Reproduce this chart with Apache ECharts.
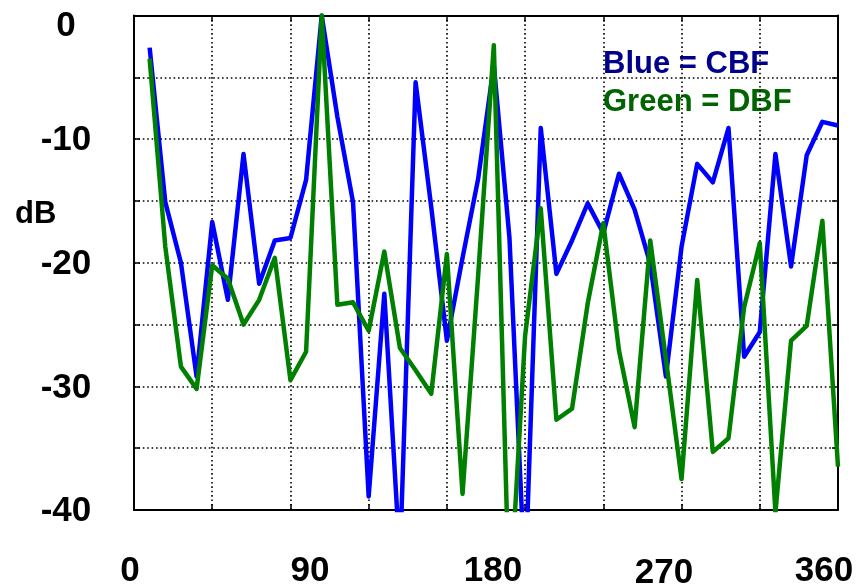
<!DOCTYPE html>
<html>
<head>
<meta charset="utf-8">
<script src="https://cdn.jsdelivr.net/npm/echarts@6/dist/echarts.min.js"></script>
<style>
html,body{margin:0;padding:0;background:#fff;}
#chart{width:861px;height:585px;}
</style>
</head>
<body>
<div id="chart"></div>
<script>
// Angles (degrees)
var angles = [8,16,24,32,40,48,56,64,72,80,88,96,104,112,120,128,136,144,152,160,168,176,184,192,200,208,216,224,232,240,248,256,264,272,280,288,296,304,312,320,328,336,344,352,360];
// Blue = CBF (dB)
var cbf = [-2.6,-15.1,-20.0,-29.2,-16.7,-23.0,-11.2,-21.7,-18.2,-18.0,-13.3,0,-8.2,-15.1,-38.9,-22.5,-44,-5.4,-15.5,-26.3,-19.6,-13.2,-4.0,-18.0,-46,-9.1,-20.9,-18.2,-15.2,-17.6,-12.8,-15.7,-20.1,-29.2,-18.7,-12.0,-13.5,-9.1,-27.6,-25.6,-11.2,-20.3,-11.3,-8.6,-8.9];
// Green = DBF (dB)
var dbf = [-3.5,-18.7,-28.4,-30.2,-20.2,-21.3,-25.0,-23.0,-19.6,-29.5,-27.2,0,-23.4,-23.2,-25.5,-19.1,-26.9,-28.7,-30.6,-19.3,-38.7,-21.0,-2.4,-48,-25.9,-15.6,-32.7,-31.8,-23.3,-16.8,-27.1,-33.3,-18.2,-27.8,-37.5,-21.4,-35.3,-34.2,-23.6,-18.4,-40.2,-26.3,-25.1,-16.6,-36.5];
// Tick labels
var xTickLabels = [0,90,180,270,360];
var yTickLabels = [0,-10,-20,-30,-40];

function pairs(xs, ys){ return xs.map(function(x,i){ return [x, ys[i]]; }); }

var font = 'Liberation Sans, Arial, sans-serif';
var gridLine = {show:true, lineStyle:{color:'#000', width:1.6, type:[1.6,2.8]}};
var axisLine = {show:true, onZero:false, lineStyle:{color:'#000', width:2}};
var axisTick = {show:true, inside:true, length:6, lineStyle:{color:'#000', width:1.5}};

var xRich = {
  a0:{fontSize:35, fontWeight:'bold', fontFamily:font, color:'#000', padding:[0,8,0,0]},
  a1:{fontSize:35, fontWeight:'bold', fontFamily:font, color:'#000'},
  a2:{fontSize:35, fontWeight:'bold', fontFamily:font, color:'#000', padding:[0,0,0,14]},
  a3:{fontSize:35, fontWeight:'bold', fontFamily:font, color:'#000', padding:[2,0,0,4]},
  a4:{fontSize:35, fontWeight:'bold', fontFamily:font, color:'#000', padding:[0,28,0,0]}
};
var yRich = {
  b0:{fontSize:35, fontWeight:'bold', fontFamily:font, color:'#000', padding:[22,0,0,0]},
  b:{fontSize:35, fontWeight:'bold', fontFamily:font, color:'#000', padding:[3,0,0,0]}
};

var chart = echarts.init(document.getElementById('chart'), null, {renderer:'canvas'});
chart.setOption({
  animation:false,
  backgroundColor:'#fff',
  grid:{left:134, right:23, top:15.5, bottom:75, containLabel:false, outerBoundsMode:'none'},
  xAxis:[{
    type:'value', min:0, max:360, interval:40, position:'bottom',
    axisLine:axisLine, axisTick:axisTick, splitLine:gridLine,
    axisLabel:{show:true, customValues:xTickLabels, margin:44,
      formatter:function(v){ var i = xTickLabels.indexOf(v); return '{a'+i+'|'+v+'}'; },
      rich:xRich}
  },{
    type:'value', min:0, max:360, interval:40, position:'top',
    axisLine:axisLine, axisTick:axisTick, splitLine:{show:false}, axisLabel:{show:false}
  }],
  yAxis:[{
    type:'value', min:-40, max:0, interval:5, position:'left',
    axisLine:axisLine, axisTick:axisTick, splitLine:gridLine,
    axisLabel:{show:true, customValues:yTickLabels, margin:68, align:'center',
      formatter:function(v){ return v===0 ? '{b0|0}' : '{b|'+v+'}'; },
      rich:yRich}
  },{
    type:'value', min:-40, max:0, interval:5, position:'right',
    axisLine:axisLine, axisTick:axisTick, splitLine:{show:false}, axisLabel:{show:false}
  }],
  series:[{
    name:'CBF', type:'line', xAxisIndex:0, yAxisIndex:0, data:pairs(angles,cbf),
    symbol:'none', clip:true,
    lineStyle:{color:'#0000ff', width:4.5, join:'round'}
  },{
    name:'DBF', type:'line', xAxisIndex:0, yAxisIndex:0, data:pairs(angles,dbf),
    symbol:'none', clip:true,
    lineStyle:{color:'#008000', width:4.5, join:'round'}
  }],
  graphic:[
    {type:'text', left:15, top:199, style:{text:'dB', fontSize:31, fontWeight:'bold', fontFamily:font, fill:'#000'}},
    {type:'text', left:603, top:49, style:{text:'Blue = CBF', fontSize:31, fontWeight:'bold', fontFamily:font, fill:'#00008b'}},
    {type:'text', left:603, top:87, style:{text:'Green = DBF', fontSize:31, fontWeight:'bold', fontFamily:font, fill:'#006400'}}
  ]
});
</script>
</body>
</html>
